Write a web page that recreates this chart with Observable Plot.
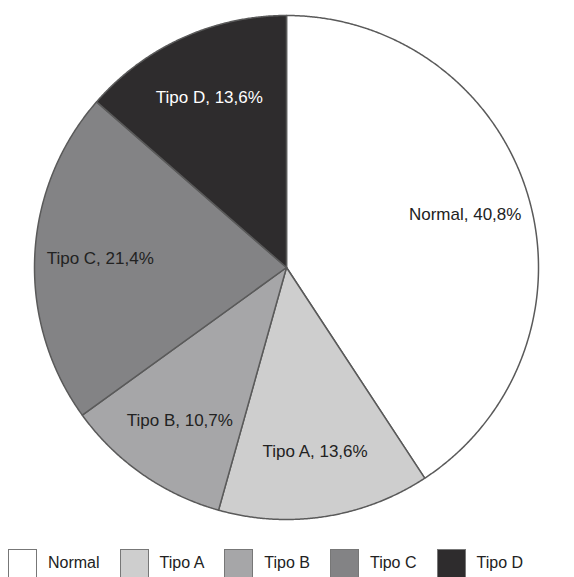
<!DOCTYPE html>
<html>
<head>
<meta charset="utf-8">
<script src="https://cdn.jsdelivr.net/npm/d3@7"></script>
<script src="https://cdn.jsdelivr.net/npm/@observablehq/plot@0.6"></script>
<style>
  body { margin: 0; background: #fff; font-family: "Liberation Sans", Arial, sans-serif; overflow: hidden; }
  #legend { display: flex; gap: 20px; padding-left: 8px; margin-top: 9px; align-items: flex-start; }
  .item { display: flex; align-items: flex-start; font-size: 16px; color: #222; }
  .item span { padding-top: 5px; line-height: 18px; }
  .sw { box-sizing: border-box; width: 29px; height: 34px; border: 1.5px solid #777; margin-right: 11px; }
</style>
</head>
<body>
<div id="chart"></div>
<div id="legend"></div>
<script>
const categories = ["Normal", "Tipo A", "Tipo B", "Tipo C", "Tipo D"];
const values = [40.8, 13.6, 10.7, 21.4, 13.6];
const labels = ["Normal, 40,8%", "Tipo A, 13,6%", "Tipo B, 10,7%", "Tipo C, 21,4%", "Tipo D, 13,6%"];
const colors = ["#ffffff", "#cecece", "#a6a6a8", "#838385", "#2e2c2d"];

const data = categories.map((c, i) => ({cat: c, value: values[i], label: labels[i]}));
const arcs = d3.pie().value(d => d.value).sort(null)(data);

// polygon points for each slice (angle 0 at top, clockwise)
const pts = [];
for (const a of arcs) {
  pts.push({cat: a.data.cat, x: 0, y: 0});
  const n = Math.max(2, Math.ceil((a.endAngle - a.startAngle) / 0.005));
  for (let k = 0; k <= n; k++) {
    const t = a.startAngle + (a.endAngle - a.startAngle) * k / n;
    pts.push({cat: a.data.cat, x: Math.sin(t), y: Math.cos(t)});
  }
}
const labelR = 0.74;
const labelPts = arcs.map(a => {
  const m = (a.startAngle + a.endAngle) / 2;
  return {label: a.data.label, x: labelR * Math.sin(m), y: labelR * Math.cos(m)};
});

const chart = Plot.plot({
  width: 574,
  height: 540,
  marginLeft: 34,
  marginRight: 36,
  marginTop: 15,
  marginBottom: 21,
  x: {domain: [-1, 1], axis: null},
  y: {domain: [-1, 1], axis: null},
  color: {type: "ordinal", domain: categories, range: colors},
  style: {fontFamily: "'Liberation Sans', Arial, sans-serif", background: "#fff"},
  marks: [
    Plot.line(pts, {x: "x", y: "y", z: "cat", fill: "cat", stroke: "#5a5a5a", strokeWidth: 1.5, curve: "linear-closed", strokeLinejoin: "round"}),
    Plot.text(labelPts, {x: "x", y: "y", text: "label", fontSize: 17, fill: d => d.label.startsWith("Tipo D") ? "#ffffff" : "#222222"})
  ]
});
document.getElementById("chart").appendChild(chart);

const legend = document.getElementById("legend");
categories.forEach((c, i) => {
  const item = document.createElement("div");
  item.className = "item";
  const sw = document.createElement("div");
  sw.className = "sw";
  sw.style.background = colors[i];
  const tx = document.createElement("span");
  tx.textContent = c;
  item.appendChild(sw);
  item.appendChild(tx);
  legend.appendChild(item);
});
</script>
</body>
</html>
